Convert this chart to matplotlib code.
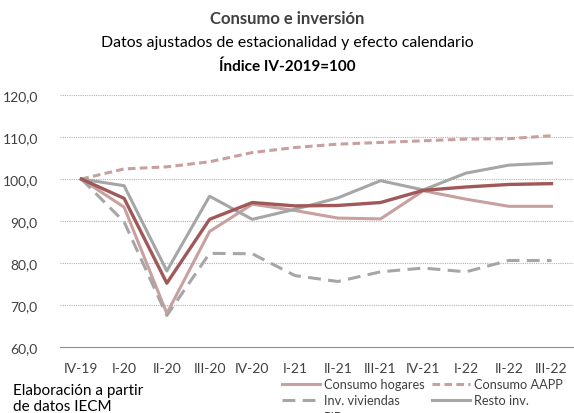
import matplotlib
matplotlib.use("Agg")
import matplotlib.pyplot as plt

plt.rcParams['font.family'] = ['Lato', 'DejaVu Sans']

# Trimestres y series (índice IV-2019 = 100)
trimestres = ['IV-19', 'I-20', 'II-20', 'III-20', 'IV-20', 'I-21', 'II-21',
              'III-21', 'IV-21', 'I-22', 'II-22', 'III-22']
consumo_hogares = [100, 93.3, 68.0, 87.5, 94.0, 92.5, 90.7, 90.5, 97.2, 95.2, 93.5, 93.5]
consumo_aapp = [100, 102.4, 102.9, 104.1, 106.3, 107.5, 108.3, 108.7, 109.1, 109.5, 109.6, 110.3]
inv_viviendas = [100, 89.8, 67.5, 82.3, 82.2, 77.0, 75.6, 77.9, 78.8, 77.9, 80.6, 80.6]
resto_inv = [100, 98.4, 78.1, 95.9, 90.4, 92.8, 95.5, 99.6, 97.4, 101.4, 103.3, 103.8]
pib = [100, 95.4, 75.2, 90.4, 94.4, 93.6, 93.7, 94.4, 97.3, 98.1, 98.7, 98.9]

rosa = '#c9a0a0'
gris = '#a6a6a6'
granate = '#a05858'

fig = plt.figure(figsize=(5.74, 4.14), dpi=100)
ax = fig.add_axes([0.1045, 0.1594, 0.8935, 0.6087])

x = range(len(trimestres))
l1, = ax.plot(x, consumo_hogares, color=rosa, lw=2.2, label='Consumo hogares')
l2, = ax.plot(x, consumo_aapp, color=rosa, lw=2.2, dashes=(2.5, 1.4), label='Consumo AAPP')
l3, = ax.plot(x, inv_viviendas, color=gris, lw=2.2, dashes=(4.2, 2.4), label='Inv. viviendas')
l4, = ax.plot(x, resto_inv, color=gris, lw=2.2, label='Resto inv.')
l5, = ax.plot(x, pib, color=granate, lw=2.4, label='PIB')

ax.set_xlim(-0.5, len(trimestres) - 0.5)
ax.set_ylim(60, 120)
ax.set_yticks(range(60, 121, 10))
ax.set_yticklabels([f'{v},0' for v in range(60, 121, 10)])
ax.set_xticks(list(x))
ax.set_xticklabels(trimestres)
ax.tick_params(length=0, labelsize=10, colors='#404040')
ax.tick_params(axis='x', pad=11)
ax.tick_params(axis='y', pad=16)

for v in range(70, 121, 10):
    ax.axhline(v, color='#d9a3a3', lw=0.8, ls=(0, (1, 1)), zorder=0)
for s in ['top', 'right', 'left']:
    ax.spines[s].set_visible(False)
ax.spines['bottom'].set_color('#8c8c8c')
ax.spines['bottom'].set_linewidth(0.8)

fig.text(0.5, 0.955, 'Consumo e inversión', ha='center', va='center',
         fontsize=12, fontweight='bold', color='#404040')
fig.text(0.5, 0.895, 'Datos ajustados de estacionalidad y efecto calendario',
         ha='center', va='center', fontsize=11.4, color='#000000')
fig.text(0.5, 0.838, 'Índice IV-2019=100', ha='center', va='center',
         fontsize=11, fontweight='bold', color='#000000')

fig.text(0.022, 0.036, 'Elaboración a partir\nde datos IECM', ha='left',
         va='center', fontsize=11, linespacing=1.2, color='#000000')

# orden por columnas para que las filas queden como en el original
fig.legend(handles=[l1, l3, l5, l2, l4], ncol=2, loc='upper right',
           bbox_to_anchor=(0.992, 0.099), frameon=False, fontsize=9.2,
           handlelength=3.0, handletextpad=0.3, columnspacing=0.6,
           labelspacing=0.32, borderpad=0, labelcolor='#404040')

fig.savefig('out.png', dpi=100)
